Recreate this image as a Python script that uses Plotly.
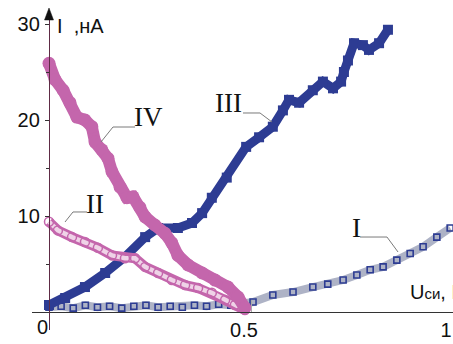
import plotly.graph_objects as go

# ---- data ----
u_I = [0.0, 0.03, 0.06, 0.09, 0.12, 0.15, 0.18, 0.21, 0.24, 0.27, 0.30, 0.33, 0.36, 0.39,
       0.42, 0.45, 0.48, 0.505, 0.554, 0.604, 0.653, 0.69, 0.728, 0.762, 0.795, 0.827,
       0.861, 0.894, 0.926, 0.96, 0.993]
i_I = [0.5, 0.6, 0.4, 0.7, 0.5, 0.6, 0.4, 0.6, 0.7, 0.5, 0.6, 0.5, 0.7, 0.6,
       0.8, 0.7, 0.8, 1.04, 1.77, 2.08, 2.6, 2.9, 3.33, 3.85, 4.4, 4.7,
       5.4, 6.1, 6.8, 7.8, 8.75]

u_II = [0.0, 0.022, 0.057, 0.089, 0.121, 0.156, 0.188, 0.213, 0.238, 0.270, 0.304,
        0.337, 0.369, 0.403, 0.436, 0.460, 0.485]
i_II = [9.4, 8.5, 7.8, 7.3, 6.7, 5.9, 5.6, 5.6, 4.7, 4.06, 3.33,
        2.8, 2.5, 2.0, 1.25, 0.73, 0.2]

u_III = [0.0, 0.040, 0.089, 0.139, 0.188, 0.238, 0.270, 0.319, 0.354, 0.379, 0.403,
         0.44, 0.488, 0.52, 0.554, 0.579, 0.594, 0.619, 0.653, 0.678, 0.703, 0.723,
         0.730, 0.740, 0.755, 0.777, 0.792, 0.817, 0.839]
i_III = [0.73, 1.46, 2.6, 4.06, 5.73, 7.8, 8.75, 8.75, 9.27, 10.3, 11.9,
         14.0, 17.2, 18.2, 19.3, 21.0, 22.1, 21.8, 23.1, 24.0, 23.3, 24.0,
         25.0, 26.2, 28.0, 27.8, 27.3, 28.0, 29.4]

u_IV = [0.0, 0.015, 0.035, 0.052, 0.069, 0.089, 0.106, 0.114, 0.131, 0.146, 0.156,
        0.176, 0.193, 0.208, 0.225, 0.238, 0.262, 0.287, 0.304, 0.319, 0.344, 0.379,
        0.411, 0.443, 0.468, 0.485]
i_IV = [25.9, 24.2, 23.1, 21.8, 20.3, 20.0, 19.3, 17.7, 16.9, 16.0, 14.6,
        13.0, 11.9, 12.0, 10.9, 9.9, 9.06, 8.2, 7.2, 5.9, 4.9, 4.06,
        3.33, 2.6, 1.56, 0.42]

x_tickvals = [0.5, 1]
x_ticktext = ["0.5", "1"]
y_tickvals = [10, 20, 30]
y_ticktext = ["10", "20", "30"]
y_minor = [5, 15, 25]

series_labels = ["I", "II", "III", "IV"]

BLUE = "#2D3C93"
PINK = "#C466AC"
W, H = 453, 344
SANS = "Liberation Sans, Arial, sans-serif"
SERIF = "Liberation Serif, Times New Roman, serif"

fig = go.Figure()

# I : grey band + blue open squares
fig.add_trace(go.Scatter(x=u_I, y=i_I, mode="lines", cliponaxis=False,
                         line=dict(color="#AEB3C6", width=8), hoverinfo="skip"))
fig.add_trace(go.Scatter(x=u_I, y=i_I, mode="markers", cliponaxis=False,
                         marker=dict(symbol="square-open", size=6, color=BLUE,
                                     line=dict(width=1.6, color=BLUE))))
# III : filled blue band
fig.add_trace(go.Scatter(x=u_III, y=i_III, mode="lines+markers", cliponaxis=False,
                         line=dict(color=BLUE, width=9),
                         marker=dict(symbol="square", size=10, color=BLUE)))
# II : hollow pink band
fig.add_trace(go.Scatter(x=u_II, y=i_II, mode="lines", cliponaxis=False,
                         line=dict(color=PINK, width=10), hoverinfo="skip"))
fig.add_trace(go.Scatter(x=u_II, y=i_II, mode="lines+markers", cliponaxis=False,
                         line=dict(color="#EFD3E7", width=4.5),
                         marker=dict(symbol="circle-open", size=9, color=PINK,
                                     line=dict(width=1.5, color=PINK))))
# IV : filled pink band
fig.add_trace(go.Scatter(x=u_IV, y=i_IV, mode="lines+markers", cliponaxis=False,
                         line=dict(color=PINK, width=12),
                         marker=dict(symbol="circle", size=13, color=PINK)))

# labels with leader lines (positions in data units)
label_pos = {"IV": (0.2475, 20.3), "II": (0.1139, 11.3), "III": (0.4443, 21.8), "I": (0.7599, 8.7)}
leaders = {
    "IV": ([0.2129, 0.1584, 0.1287], [19.27, 19.27, 17.71]),
    "II": ([0.0941, 0.0594, 0.0396], [10.42, 10.42, 9.375]),
    "III": ([0.4802, 0.5223, 0.552], [20.73, 20.73, 19.79]),
    "I": ([0.7698, 0.8366, 0.8639], [7.81, 7.81, 6.25]),
}
for name in series_labels:
    lx, ly = leaders[name]
    path = "M {},{} L {},{} L {},{}".format(lx[0], ly[0], lx[1], ly[1], lx[2], ly[2])
    fig.add_shape(type="path", path=path, xref="x", yref="y",
                  line=dict(color="#7a7a7a", width=1))
    px, py = label_pos[name]
    fig.add_annotation(x=px, y=py, xref="x", yref="y", text=name, showarrow=False,
                       font=dict(family=SERIF, size=27, color="#111"),
                       xanchor="center", yanchor="middle")

# axis titles
fig.add_annotation(x=55 / W, y=1 - 26 / H, xref="paper", yref="paper",
                   text="I  ,нА", showarrow=False, xanchor="left", yanchor="middle",
                   font=dict(family=SANS, size=20, color="#111"))
fig.add_annotation(x=408 / W, y=1 - 292 / H, xref="paper", yref="paper",
                   text="U<span style='font-size:15px'>си</span>, В", showarrow=False,
                   xanchor="left", yanchor="middle",
                   font=dict(family=SANS, size=20, color="#111"))
fig.add_annotation(x=42 / W, y=1 - 327 / H, xref="paper", yref="paper",
                   text="0", showarrow=False, xanchor="center", yanchor="middle",
                   font=dict(family=SANS, size=20, color="#111"))

# arrow head on the y axis
ax, tip, base, hw = 49, 8, 20, 4.5
fig.add_shape(type="path", xref="paper", yref="paper",
              path="M {},{} L {},{} L {},{} Z".format(ax / W, 1 - tip / H, (ax - hw) / W, 1 - base / H,
                                                     (ax + hw) / W, 1 - base / H),
              fillcolor="#111", line=dict(color="#111", width=0.5))

fig.update_layout(
    width=W, height=H, margin=dict(l=0, r=0, t=0, b=0, autoexpand=False),
    paper_bgcolor="white", plot_bgcolor="white", showlegend=False,
    xaxis=dict(domain=[32 / W, 1], range=[-17 / 404, 1.0], anchor="free", position=32 / H,
               automargin=False,
               showline=True, linecolor="#333", linewidth=1.3, showgrid=False, zeroline=False,
               tickvals=x_tickvals, ticktext=x_ticktext, ticks="inside", ticklen=12,
               tickcolor="#aaa", ticklabelshift=-7,
               tickfont=dict(family=SANS, size=20, color="#111")),
    yaxis=dict(domain=[14 / H, 330 / H], range=[-18 / 9.6, 298 / 9.6], anchor="free",
               position=49 / W, automargin=False, showline=True, linecolor="#5E2B45",
               linewidth=1.3, showgrid=False, zeroline=False,
               tickvals=y_tickvals, ticktext=y_ticktext, ticks="outside", ticklen=4,
               tickcolor="#333", ticklabelstandoff=1,
               minor=dict(tickvals=y_minor, ticks="outside", ticklen=3, tickcolor="#333"),
               tickfont=dict(family=SANS, size=20, color="#111")),
)

fig.write_html("out.html", config={"displayModeBar": False},
               post_script="document.body.style.margin='0';document.body.style.overflow='hidden';")
